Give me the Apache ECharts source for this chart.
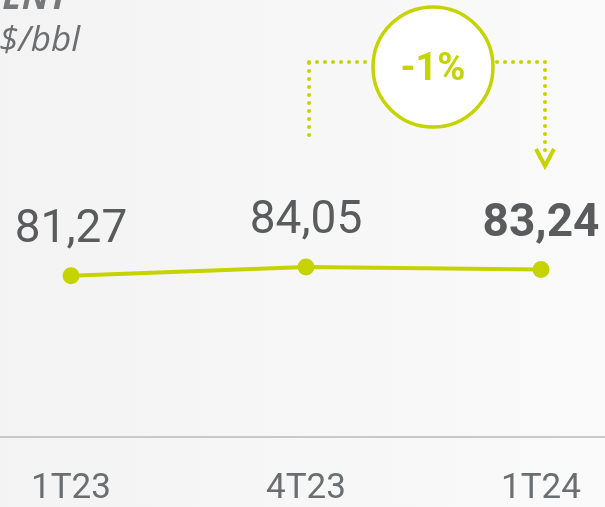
<!DOCTYPE html>
<html><head><meta charset="utf-8">
<script src="https://cdn.jsdelivr.net/npm/echarts@6/dist/echarts.min.js"></script>
<style>html,body{margin:0;padding:0;}#c{width:605px;height:507px;}</style>
</head><body><div id="c"></div>
<script>
const categories = ['1T23', '4T23', '1T24'];
const values = [81.27, 84.05, 83.24];
const highlightIndex = 2;
const titleText = 'BRENT';
const unitText = 'US$/bbl';
const changeText = '-1%';

const LIME = '#c5d400';
const GRAY = '#5a5b5d';

const chart = echarts.init(document.getElementById('c'), null, {renderer: 'canvas'});

const seriesData = values.map((v, i) => ({
  value: v,
  label: i === highlightIndex ? {fontWeight: 'bold'} : {}
}));

chart.setOption({
  animation: false,
  backgroundColor: {
    type: 'linear', x: 0, y: 0, x2: 1, y2: 0,
    colorStops: [{offset: 0, color: '#f3f3f3'}, {offset: 1, color: '#fafafa'}]
  },
  grid: {left: 71, right: 64, top: 154, bottom: 69, containLabel: false},
  xAxis: {
    type: 'category',
    data: categories,
    boundaryGap: false,
    axisLine: {show: false},
    axisTick: {show: false},
    axisLabel: {fontFamily: 'Roboto', fontSize: 35, color: '#6b6e71', margin: 35}
  },
  yAxis: {type: 'value', min: 30, max: 120, show: false, splitLine: {show: false}},
  series: [{
    type: 'line',
    data: seriesData,
    symbol: 'circle',
    symbolSize: 17,
    lineStyle: {color: LIME, width: 4},
    itemStyle: {color: LIME},
    label: {
      show: true,
      position: 'top',
      distance: 14,
      fontFamily: 'Roboto',
      fontSize: 46,
      color: GRAY,
      formatter: p => p.value.toFixed(2).replace('.', ',')
    }
  }]
});

const xMid = chart.convertToPixel({xAxisIndex: 0}, 1);
const xLast = chart.convertToPixel({xAxisIndex: 0}, 2);
const yBase = chart.convertToPixel({yAxisIndex: 0}, 30);
const lx = xMid + 3, rx = xLast + 4;
const by = 62, cx = 433, cy = 67, r = 60;
const dot = {stroke: LIME, lineWidth: 4, lineDash: [0, 8], lineCap: 'round'};

chart.setOption({
  graphic: [
    {type: 'line', shape: {x1: 0, y1: yBase, x2: 605, y2: yBase}, style: {stroke: '#c8c8c8', lineWidth: 2}},
    {type: 'text', x: 68, y: -1, style: {text: titleText, fontFamily: 'Open Sans', fontStyle: 'italic', fontWeight: 'bold', fontSize: 36, fill: '#77787a', align: 'right', verticalAlign: 'middle'}},
    {type: 'text', x: 80, y: 41, style: {text: unitText, fontFamily: 'Open Sans', fontStyle: 'italic', fontSize: 35, fill: '#6d6e70', align: 'right', verticalAlign: 'middle'}},
    {type: 'line', shape: {x1: lx, y1: 135, x2: lx, y2: by}, style: dot},
    {type: 'line', shape: {x1: lx, y1: by, x2: cx - r, y2: by}, style: dot},
    {type: 'line', shape: {x1: cx + r + 4, y1: by, x2: rx, y2: by}, style: dot},
    {type: 'line', shape: {x1: rx, y1: by, x2: rx, y2: 155}, style: dot},
    {type: 'polyline', shape: {points: [[rx - 9, 149], [rx, 166], [rx + 9, 149]]}, style: {stroke: LIME, lineWidth: 4, fill: null}},
    {type: 'circle', shape: {cx: cx, cy: cy, r: r}, style: {fill: '#ffffff', stroke: LIME, lineWidth: 3.5}, z: 10},
    {type: 'text', x: cx, y: cy + 3, z: 11, style: {text: changeText, fontFamily: 'Roboto', fontWeight: 'bold', fontSize: 38, fill: LIME, align: 'center', verticalAlign: 'middle'}}
  ]
});
</script>
</body></html>
